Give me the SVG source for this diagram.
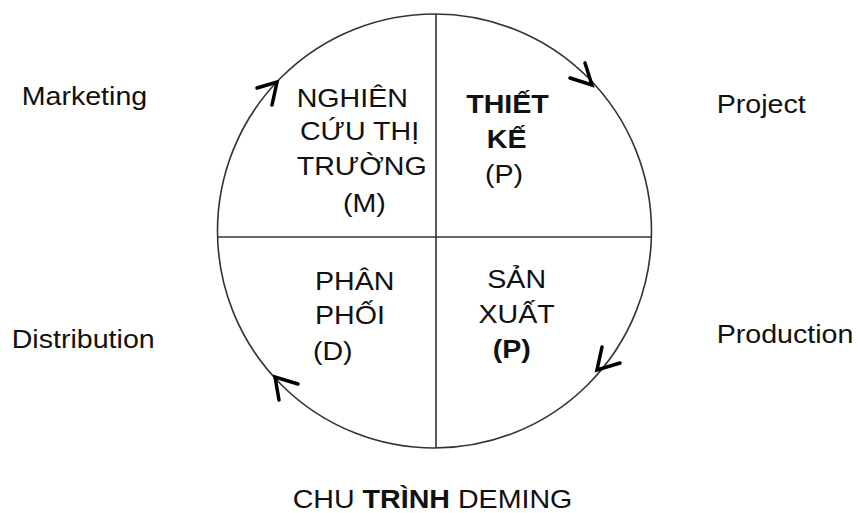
<svg xmlns="http://www.w3.org/2000/svg" width="858" height="513" viewBox="0 0 858 513">
<style>
.t{font-family:"Liberation Sans",Arial,sans-serif;font-size:26px;fill:#111}
.b{font-weight:bold}
.m{text-anchor:middle}
.ln{stroke:#333;stroke-width:1.6;fill:none}
.ah{stroke:#000;stroke-width:3.5;fill:none;stroke-linecap:round;stroke-linejoin:miter}
</style>
<rect width="858" height="513" fill="#fff"/>
<g id="cycle">
<circle class="ln" cx="434.5" cy="231" r="217"/>
<line class="ln" x1="436" y1="14" x2="436" y2="448"/>
<line class="ln" x1="218" y1="237" x2="651" y2="237"/>
</g>
<g id="connectors">
<path class="ah" d="M257,88 L277,82 L272,105"/>
<path class="ah" d="M585,63 L592,85 L570,78"/>
<path class="ah" d="M602,347 L597,370 L620,363"/>
<path class="ah" d="M298,384 L275,377 L279,400"/>
</g>
<g transform="scale(1.1 1)">
<g id="node-marketing-research">
<text class="t" x="269.7" y="106.7">NGHIÊN</text>
<text class="t" x="272.7" y="140">CỨU THỊ</text>
<text class="t" x="269.7" y="175">TRƯỜNG</text>
<text class="t" x="311.8" y="211.7">(M)</text>
</g>
<g id="node-design">
<text class="t b m" x="461.4" y="113.3">THIẾT</text>
<text class="t b m" x="460.6" y="148.3">KẾ</text>
<text class="t m" x="458.2" y="183">(P)</text>
</g>
<g id="node-distribution">
<text class="t" x="286.4" y="290">PHÂN</text>
<text class="t" x="286.4" y="324">PHỐI</text>
<text class="t" x="284.5" y="360">(D)</text>
</g>
<g id="node-production">
<text class="t m" x="469.7" y="287.7">SẢN</text>
<text class="t m" x="469.7" y="323">XUẤT</text>
<text class="t b m" x="465.2" y="358">(P)</text>
</g>
<g id="label-marketing"><text class="t" x="19.7" y="105">Marketing</text></g>
<g id="label-project"><text class="t" x="651.5" y="113.3">Project</text></g>
<g id="label-distribution"><text class="t" x="10.6" y="348.3">Distribution</text></g>
<g id="label-production"><text class="t" x="651.5" y="343.3">Production</text></g>
<g id="title"><text class="t m" x="393.2" y="508">CHU <tspan class="b">TRÌNH</tspan> DEMING</text></g>
</g>
</svg>
